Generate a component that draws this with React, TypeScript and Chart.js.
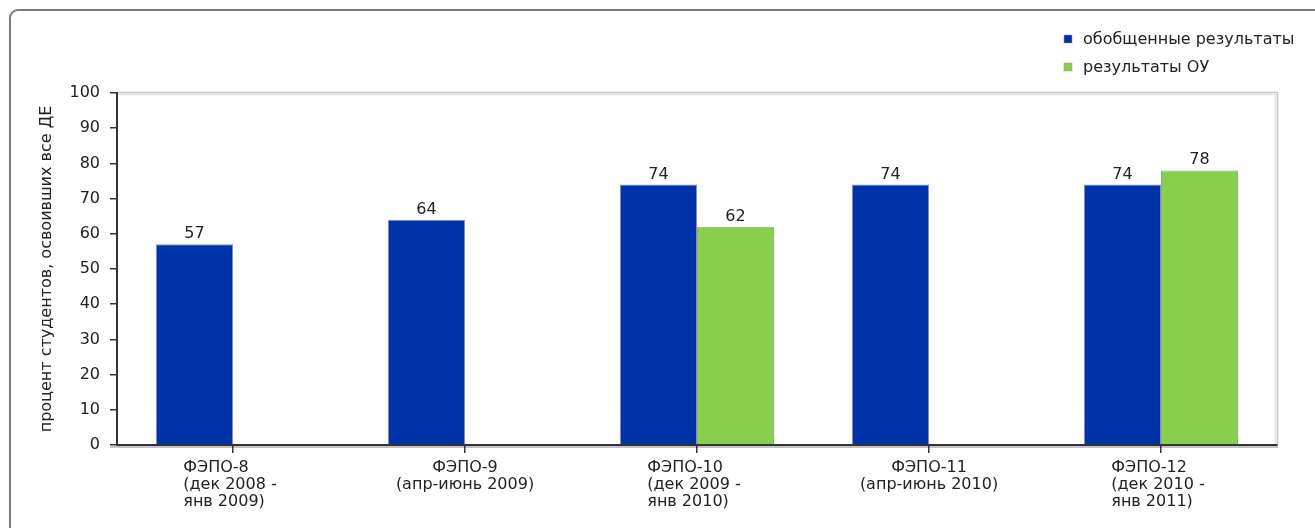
import React, { useEffect, useRef } from "react";
import { Chart, registerables } from "chart.js";

Chart.register(...registerables);

const categories: string[][] = [
  ["ФЭПО-8", "(дек 2008 -", "янв 2009)"],
  ["ФЭПО-9", "(апр-июнь 2009)"],
  ["ФЭПО-10", "(дек 2009 -", "янв 2010)"],
  ["ФЭПО-11", "(апр-июнь 2010)"],
  ["ФЭПО-12", "(дек 2010 -", "янв 2011)"],
];

const seriesNames = ["обобщенные результаты", "результаты ОУ"];
const generalValues: (number | null)[] = [57, 64, 74, 74, 74];
const schoolValues: (number | null)[] = [null, null, 62, null, 78];
const seriesColors = ["#0033AA", "#88D04B"];
const seriesBorders = ["#7f8fbf", "#9aaa8a"];

const yMin = 0;
const yMax = 100;
const yStep = 10;
const yTitle = "процент студентов, освоивших все ДЕ";

const FONT = '"DejaVu Sans", sans-serif';
const TEXT = "#222222";

const framePlugin = {
  id: "frame",
  beforeDraw(chart: any) {
    const { ctx, chartArea } = chart;
    ctx.save();
    ctx.strokeStyle = "#7a7a7a";
    ctx.lineWidth = 2;
    ctx.beginPath();
    ctx.moveTo(10, 560);
    ctx.lineTo(10, 18);
    ctx.arcTo(10, 10, 18, 10, 8);
    ctx.lineTo(1330, 10);
    ctx.stroke();
    // plot area border (top and right)
    ctx.strokeStyle = "#c4c4c4";
    ctx.lineWidth = 1.5;
    ctx.beginPath();
    ctx.moveTo(chartArea.left, chartArea.top - 0.5);
    ctx.lineTo(chartArea.right + 0.5, chartArea.top - 0.5);
    ctx.lineTo(chartArea.right + 0.5, chartArea.bottom);
    ctx.stroke();
    ctx.strokeStyle = "#e2e2e2";
    ctx.lineWidth = 1.5;
    ctx.beginPath();
    ctx.moveTo(chartArea.left, chartArea.top + 1.5);
    ctx.lineTo(chartArea.right - 1.5, chartArea.top + 1.5);
    ctx.lineTo(chartArea.right - 1.5, chartArea.bottom);
    ctx.stroke();
    // shadow under x axis
    ctx.strokeStyle = "#b0b0b0";
    ctx.lineWidth = 1.5;
    ctx.beginPath();
    ctx.moveTo(chartArea.left - 7, chartArea.bottom + 2);
    ctx.lineTo(chartArea.right + 1, chartArea.bottom + 2);
    ctx.stroke();
    ctx.restore();
  },
};

const valueLabelsPlugin = {
  id: "valueLabels",
  afterDatasetsDraw(chart: any) {
    const { ctx } = chart;
    ctx.save();
    ctx.font = `16px ${FONT}`;
    ctx.fillStyle = TEXT;
    ctx.textAlign = "center";
    ctx.textBaseline = "alphabetic";
    chart.data.datasets.forEach((ds: any, di: number) => {
      const meta = chart.getDatasetMeta(di);
      meta.data.forEach((bar: any, i: number) => {
        const v = ds.data[i];
        if (v === null || v === undefined) return;
        ctx.fillText(String(v), bar.x, bar.y - 6);
      });
    });
    ctx.restore();
  },
};

const xLabelsPlugin = {
  id: "xLabels",
  afterDraw(chart: any) {
    const { ctx, chartArea } = chart;
    const xs = chart.scales.x;
    ctx.save();
    ctx.font = `16px ${FONT}`;
    ctx.fillStyle = TEXT;
    ctx.textAlign = "left";
    ctx.textBaseline = "alphabetic";
    categories.forEach((lines, i) => {
      const cx = xs.getPixelForValue(i);
      const widths = lines.map((l) => ctx.measureText(l).width);
      const maxW = Math.max(...widths);
      lines.forEach((l, j) => {
        const y = chartArea.bottom + 27 + j * 17;
        const x = lines.length > 2 ? cx - maxW / 2 - 3 : cx - widths[j] / 2;
        ctx.fillText(l, x, y);
      });
    });
    ctx.restore();
  },
};

const legendPlugin = {
  id: "customLegend",
  afterDraw(chart: any) {
    const { ctx } = chart;
    ctx.save();
    ctx.font = `16px ${FONT}`;
    ctx.textAlign = "left";
    ctx.textBaseline = "alphabetic";
    seriesNames.forEach((name, i) => {
      const y = 35 + i * 28;
      ctx.fillStyle = seriesColors[i];
      ctx.fillRect(1064, y, 8, 8);
      ctx.strokeStyle = "#9a9a9a";
      ctx.lineWidth = 0.5;
      ctx.strokeRect(1064, y, 8, 8);
      ctx.fillStyle = TEXT;
      ctx.fillText(name, 1083, y + 9);
    });
    ctx.restore();
  },
};

export default function App() {
  const ref = useRef<HTMLCanvasElement>(null);

  useEffect(() => {
    if (!ref.current) return;
    const chart = new Chart(ref.current, {
      type: "bar",
      data: {
        labels: categories,
        datasets: [
          {
            label: seriesNames[0],
            data: generalValues,
            backgroundColor: seriesColors[0],
            borderColor: seriesBorders[0],
            borderWidth: 1,
            categoryPercentage: 0.664,
            barPercentage: 1,
          },
          {
            label: seriesNames[1],
            data: schoolValues,
            backgroundColor: seriesColors[1],
            borderColor: seriesBorders[1],
            borderWidth: 1,
            categoryPercentage: 0.664,
            barPercentage: 1,
          },
        ] as any,
      },
      options: {
        animation: false,
        responsive: false,
        devicePixelRatio: 1,
        layout: { padding: { top: 93, right: 38, left: 0, bottom: 0 } },
        plugins: {
          legend: { display: false },
          tooltip: { enabled: false },
        },
        scales: {
          x: {
            offset: true,
            grid: {
              offset: false,
              drawOnChartArea: false,
              drawTicks: true,
              tickLength: 8,
              color: "#333333",
              lineWidth: 1.5,
            },
            border: { color: "#333333", width: 2 },
            ticks: { display: false },
            afterFit: (scale: any) => {
              scale.height = 83;
            },
          },
          y: {
            min: yMin,
            max: yMax,
            ticks: {
              stepSize: yStep,
              color: TEXT,
              font: { family: FONT, size: 16 },
              padding: 10,
            },
            grid: {
              drawOnChartArea: false,
              drawTicks: true,
              tickLength: 7,
              color: "#333333",
              lineWidth: 1.5,
            },
            border: { color: "#333333", width: 2 },
            title: {
              display: true,
              text: yTitle,
              color: TEXT,
              font: { family: FONT, size: 16 },
              padding: { top: 37, bottom: 0 },
            },
            afterFit: (scale: any) => {
              scale.width = 117;
            },
          },
        },
      },
      plugins: [framePlugin, valueLabelsPlugin, xLabelsPlugin, legendPlugin],
    });
    return () => chart.destroy();
  }, []);

  return (
    <div style={{ position: "fixed", left: 0, top: 0, width: 1315, height: 528, background: "#fff" }}>
      <canvas ref={ref} width={1315} height={528} style={{ width: 1315, height: 528, display: "block" }} />
    </div>
  );
}
